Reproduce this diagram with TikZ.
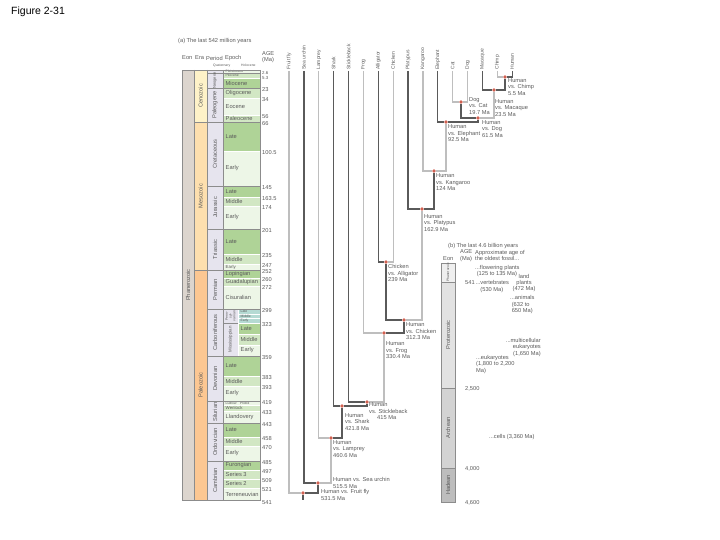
\documentclass[tikz,border=0pt]{standalone}
\usepackage{fontspec}
\setmainfont{Liberation Sans}
\usetikzlibrary{positioning,backgrounds}

\definecolor{txt}{HTML}{5A5A5A}
\definecolor{dkbranch}{HTML}{5A5A5A}
\definecolor{ltbranch}{HTML}{BEBEBE}
\definecolor{splitdot}{HTML}{D06050}
\definecolor{eoncol}{HTML}{DCD5CE}
\definecolor{cenocol}{HTML}{FEF2C8}
\definecolor{mesocol}{HTML}{FDDFAE}
\definecolor{paleocol}{HTML}{FCC792}
\definecolor{percol}{HTML}{E6E4EE}
\definecolor{lategr}{HTML}{AFD397}
\definecolor{midgr}{HTML}{D2E7C4}
\definecolor{earlygr}{HTML}{EDF6E7}
\definecolor{penngr}{HTML}{B5DAD3}
\definecolor{rowline}{HTML}{8C8C8C}
\definecolor{phancol}{HTML}{EFEFEF}
\definecolor{protcol}{HTML}{E2E2E2}
\definecolor{archcol}{HTML}{D3D3D3}
\definecolor{hadcol}{HTML}{BDBDBD}

\begin{document}
\begin{tikzpicture}[x=1pt, y=-1pt,
  every node/.style={font=\fontsize{5.7}{6.5}\selectfont, text=txt, inner sep=0pt},
  taxon/.style={rotate=90, anchor=west, inner sep=1.2pt, font=\fontsize{5}{6}\selectfont},
  split/.style={circle, fill=splitdot, minimum size=3.8pt},
  info/.style={anchor=north west, align=left},
  dk/.style={draw=dkbranch, line width=1.3pt},
  lt/.style={draw=ltbranch, line width=1.3pt},
  vlabel/.style={rotate=90},
  norm/.style={},
  tiny/.style={font=\fontsize{3.4}{3.8}\selectfont},
  small/.style={font=\fontsize{4.4}{5}\selectfont},
  band/.style={draw=white, line width=0.4pt}]

\useasboundingbox (0,0) rectangle (720,540);

\node[anchor=west, font=\fontsize{10.5}{12}\selectfont, text=black] (title) at (11,12) {Figure 2-31};

\node[anchor=west] (heada) at (178,41) {(a) The last 542 million years};
\node[anchor=west] (eonhead) at (182,58) {Eon};
\node[anchor=west] (erahead) at (195,58) {Era};
\node[anchor=west] (perhead) at (206,58) {Period};
\node[anchor=west] (ephead) at (225,58) {Epoch};
\node[anchor=west, align=left] (agehead) at (262,57) {AGE\\(Ma)};
\node[tiny, anchor=west] (quathead) at (213,65.5) {Quaternary};
\node[tiny, anchor=west] (holohead) at (241,65.5) {Holocene};

\fill[eoncol] (182,70) rectangle (194,500);
\fill[cenocol] (194,70) rectangle (207,122);
\fill[mesocol] (194,122) rectangle (207,270);
\fill[paleocol] (194,270) rectangle (207,500);
\fill[percol] (207,70) rectangle (223,500);
\fill[percol] (223,309) rectangle (238,356);

\foreach \ya/\yb/\xa/\c/\t/\f [count=\i] in {
  70/73/223/earlygr/Pleistocene/tiny, 73/78/223/midgr/Pliocene/tiny,
  78/88/223/lategr/Miocene/norm, 88/98/223/midgr/Oligocene/norm,
  98/115/223/earlygr/Eocene/norm, 115/122/223/midgr/Paleocene/norm,
  122/151/223/lategr/Late/norm, 151/186/223/earlygr/Early/norm,
  186/197/223/lategr/Late/norm, 197/206/223/midgr/Middle/norm,
  206/229/223/earlygr/Early/norm, 229/254/223/lategr/Late/norm,
  254/264/223/midgr/Middle/norm, 264/270/223/earlygr/Early/small,
  270/278/223/lategr/Lopingian/norm, 278/286/223/midgr/Guadalupian/norm,
  286/309/223/earlygr/Cisuralian/norm,
  309/313.7/238/penngr/Late/tiny, 313.7/318.3/238/penngr/Middle/tiny,
  318.3/323/238/penngr/Early/tiny,
  323/334/238/lategr/Late/norm, 334/345/238/midgr/Middle/norm,
  345/356/238/earlygr/Early/norm,
  356/376/223/lategr/Late/norm, 376/386/223/midgr/Middle/norm,
  386/401/223/earlygr/Early/norm,
  401/405/223/earlygr/{Ludlow\quad Pridoli}/tiny, 405/411/223/midgr/Wenlock/small,
  411/423/223/earlygr/Llandovery/norm,
  423/437/223/lategr/Late/norm, 437/446/223/midgr/Middle/norm,
  446/461/223/earlygr/Early/norm,
  461/470/223/lategr/Furongian/norm, 470/479/223/midgr/Series 3/norm,
  479/488/223/midgr/Series 2/norm, 488/500/223/earlygr/Terreneuvian/norm}
{
  \filldraw[\c, band] (\xa,\ya) rectangle (260,\yb);
  \node[\f, anchor=west] (ep\i) at (\xa+2.5,{(\ya+\yb)/2}) {\t};
}

\foreach \y in {70,73,88,122,186,229,270,309,356,401,423,461,500}
  \draw[rowline, line width=0.5pt] (207,\y) -- (260,\y);
\draw[rowline, line width=0.4pt] (223,323) -- (238,323);
\draw[rowline, line width=0.4pt] (223,309) -- (223,356);
\draw[rowline, line width=0.8pt] (194,122) -- (260,122);
\draw[rowline, line width=0.8pt] (194,270) -- (260,270);
\draw[rowline, line width=0.5pt] (182,70) rectangle (260,500);
\foreach \x in {194,207,223}
  \draw[rowline, line width=0.4pt] (\x,70) -- (\x,500);

\node[vlabel] (phan) at (188,285) {Phanerozoic};
\node[vlabel] (ceno) at (200.5,96) {Cenozoic};
\node[vlabel] (meso) at (200.5,196) {Mesozoic};
\node[vlabel] (paleo) at (200.5,385) {Paleozoic};
\node[vlabel, font=\fontsize{4}{4.5}\selectfont] (neog) at (215,80.5) {Neogene};
\node[vlabel] (paleog) at (215,105) {Paleogene};
\node[vlabel] (cret) at (215,154) {Cretaceous};
\node[vlabel] (jur) at (215,207.5) {Jurassic};
\node[vlabel] (tri) at (215,249.5) {Triassic};
\node[vlabel] (perm) at (215,289.5) {Permian};
\node[vlabel] (carb) at (215,332.5) {Carboniferous};
\node[vlabel] (dev) at (215,378.5) {Devonian};
\node[vlabel] (sil) at (215,412) {Silurian};
\node[vlabel] (ord) at (215,442) {Ordovician};
\node[vlabel] (camb) at (215,480.5) {Cambrian};
\node[vlabel, tiny, align=center] (penn) at (230.5,316) {Penn-\\syl-\\vanian};
\node[vlabel, small] (miss) at (230.5,339.5) {Mississippian};

\node[anchor=west, small] (age72) at (262,72.5) {2.6};
\node[anchor=west, small] (age77) at (262,77.5) {5.3};
\foreach \y/\t in {88/23, 98/34, 115/56, 122/66, 151/100.5,
  186/145, 197/163.5, 206/174, 229/201, 254/235, 264/247, 270/252, 278/260,
  286/272, 309/299, 323/323, 356/359, 376/383, 386/393, 401/419, 411/433,
  423/443, 437/458, 446/470, 461/485, 470/497, 479/509, 488/521, 501/541}
  \node[anchor=west] (age\y) at (262,\y+1.5) {\t};

\node[taxon] (ffly) at (289,71) {Fruit fly};
\node[taxon] (urchin) at (303.9,71) {Sea urchin};
\node[taxon] (lamprey) at (318.8,71) {Lamprey};
\node[taxon] (shark) at (333.6,71) {Shark};
\node[taxon] (stickle) at (348.5,71) {Stickleback};
\node[taxon] (frog) at (363.4,71) {Frog};
\node[taxon] (allig) at (378.3,71) {Alligator};
\node[taxon] (chicken) at (393.2,71) {Chicken};
\node[taxon] (platy) at (408,71) {Platypus};
\node[taxon] (kanga) at (422.9,71) {Kangaroo};
\node[taxon] (eleph) at (437.8,71) {Elephant};
\node[taxon] (cat) at (452.7,71) {Cat};
\node[taxon] (dog) at (467.6,71) {Dog};
\node[taxon] (macaq) at (482.4,71) {Macaque};
\node[taxon] (chimp) at (497.3,71) {Chimp};
\node[taxon] (human) at (512.2,71) {Human};

\node[split] (hc) at (505,77) {};
\node[split] (hm) at (494,90) {};
\node[split] (dc) at (461,102) {};
\node[split] (hd) at (478,118) {};
\node[split] (he) at (446,122) {};
\node[split] (hk) at (434,171) {};
\node[split] (hp) at (422,209) {};
\node[split] (ca) at (386,262) {};
\node[split] (hch) at (404,320) {};
\node[split] (hf) at (384,333) {};
\node[split] (hs) at (367,402) {};
\node[split] (hsh) at (342,406) {};
\node[split] (hl) at (331,438) {};
\node[split] (hsu) at (318,483) {};
\node[split] (hff) at (303,493) {};
\coordinate (root) at (303,500);

\node[info] (hc-info) at (508,78) {Human\\vs. Chimp\\5.5 Ma};
\node[info] (hm-info) at (495,99) {Human\\vs. Macaque\\23.5 Ma};
\node[info] (dc-info) at (469,97) {Dog\\vs. Cat\\19.7 Ma};
\node[info] (hd-info) at (482,120) {Human\\vs. Dog\\61.5 Ma};
\node[info] (he-info) at (448,124.5) {Human\\vs. Elephant\\92.5 Ma};
\node[info] (hk-info) at (436,173.5) {Human\\vs. Kangaroo\\124 Ma};
\node[info] (hp-info) at (424,214) {Human\\vs. Platypus\\162.9 Ma};
\node[info] (ca-info) at (388,264.5) {Chicken\\vs. Alligator\\239 Ma};
\node[info] (hch-info) at (406,322.5) {Human\\vs. Chicken\\312.3 Ma};
\node[info] (hf-info) at (386,341.5) {Human\\vs. Frog\\330.4 Ma};
\node[info] (hs-info) at (369,402.5) {Human\\vs. Stickleback\\\hspace{8pt}415 Ma};
\node[info] (hsh-info) at (345,413) {Human\\vs. Shark\\421.8 Ma};
\node[info] (hl-info) at (333,440) {Human\\vs. Lamprey\\460.6 Ma};
\node[info] (hsu-info) at (333,477.5) {Human vs. Sea urchin\\515.5 Ma};
\node[info] (hff-info) at (321,489.5) {Human vs. Fruit fly\\531.5 Ma};

\begin{scope}[on background layer]
\draw[dk] (human.west) |- (hc);
\draw[lt] (chimp.west) |- (hc);
\draw[dk] (hc) |- (hm);
\draw[dk] (macaq.west) |- (hm);
\draw[lt] (cat.west) |- (dc);
\draw[lt] (dog.west) |- (dc);
\draw[dk] (dc) |- (hd);
\draw[lt] (hm) |- (hd);
\draw[dk] (hd) |- (he);
\draw[dk] (eleph.west) |- (he);
\draw[lt] (he) |- (hk);
\draw[lt] (kanga.west) |- (hk);
\draw[dk] (hk) |- (hp);
\draw[dk] (platy.west) |- (hp);
\draw[dk] (allig.west) |- (ca);
\draw[lt] (chicken.west) |- (ca);
\draw[dk] (ca) |- (hch);
\draw[lt] (hp) |- (hch);
\draw[lt] (frog.west) |- (hf);
\draw[dk] (hch) |- (hf);
\draw[dk] (stickle.west) |- (hs);
\draw[lt] (hf) |- (hs);
\draw[dk] (shark.west) |- (hsh);
\draw[dk] (hs) |- (hsh);
\draw[lt] (lamprey.west) |- (hl);
\draw[dk] (hsh) |- (hl);
\draw[dk] (urchin.west) |- (hsu);
\draw[lt] (hl) |- (hsu);
\draw[lt] (ffly.west) |- (hff);
\draw[dk] (hsu) |- (hff);
\draw[dk] (hff) -- (root);
\end{scope}

\node[anchor=west] (headb) at (448,246) {(b) The last 4.6 billion years};
\node[anchor=west] (eonb) at (443,258.5) {Eon};
\node[anchor=west, align=left] (ageb) at (460,255.5) {AGE\\(Ma)};
\node[anchor=west, align=left] (fossilb) at (475,255.5) {Approximate age of\\the oldest fossil...};

\filldraw[phancol, draw=rowline, line width=0.4pt] (441,263) rectangle (455,282);
\filldraw[protcol, draw=rowline, line width=0.4pt] (441,282) rectangle (455,388);
\filldraw[archcol, draw=rowline, line width=0.4pt] (441,388) rectangle (455,468);
\filldraw[hadcol, draw=rowline, line width=0.4pt] (441,468) rectangle (455,502);
\node[vlabel, tiny] (phanb) at (448,272.5) {Phanerozoic};
\node[vlabel] (protb) at (448,335) {Proterozoic};
\node[vlabel] (archb) at (448,428) {Archean};
\node[vlabel] (hadb) at (448,485) {Hadean};

\node[anchor=west] (b541) at (465,283) {541};
\node[anchor=west] (b2500) at (465,389) {2,500};
\node[anchor=west] (b4000) at (465,468.5) {4,000};
\node[anchor=west] (b4600) at (465,503) {4,600};

\node[info] (flower) at (475,265) {...flowering plants\\\ (125 to 135 Ma)};
\node[info] (verteb) at (475.5,280.5) {...vertebrates\\\ \ \ (530 Ma)};
\node[anchor=north, align=center, font=\fontsize{5.7}{6}\selectfont] (land) at (524,274.5) {land\\plants\\(472 Ma)};
\node[info] (animal) at (510,295.5) {...animals\\\ (632 to\\\ 650 Ma)};
\node[anchor=north east, align=right] (multi) at (541,338) {...multicellular\\eukaryotes\\(1,650 Ma)};
\node[info] (eukar) at (476,355) {...eukaryotes\\(1,800 to 2,200\\Ma)};
\node[anchor=west] (cells) at (489,437) {...cells (3,360 Ma)};
\end{tikzpicture}
\end{document}
